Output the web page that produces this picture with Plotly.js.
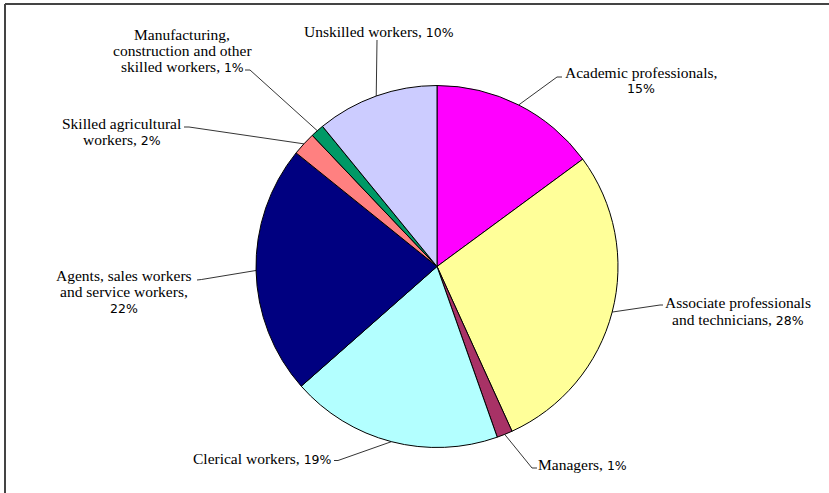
<!DOCTYPE html>
<html>
<head>
<meta charset="utf-8">
<script src="https://cdn.plot.ly/plotly-3.0.1.min.js"></script>
<style>html,body{margin:0;padding:0;background:#fff;}#chart{width:829px;height:493px;}</style>
</head>
<body>
<div id="chart"></div>
<script>
// ---- data ----
const categories = [
  'Academic professionals',
  'Associate professionals and technicians',
  'Managers',
  'Clerical workers',
  'Agents, sales workers and service workers',
  'Skilled agricultural workers',
  'Manufacturing, construction and other skilled workers',
  'Unskilled workers'
];
const values = [14.9, 28.3, 1.4, 18.9, 22.3, 2.1, 1.2, 10.9];
const pctLabels = ['15%', '28%', '1%', '19%', '22%', '2%', '1%', '10%'];

// ---- styles / layout ----
const colors = ['#FF00FF', '#FFFF99', '#A83266', '#B3FFFF', '#000080', '#FF8080', '#009966', '#CCCCFF'];
const W = 829, H = 493;
const cx = 437, cy = 266.5, R = 181;
const serif = 'Liberation Serif';
const lineGap = 16.5;
// label text lines ({p} = percent)
const labelLines = [
  ['Academic professionals,', '{p}'],
  ['Associate professionals', 'and technicians, {p}'],
  ['Managers, {p}'],
  ['Clerical workers, {p}'],
  ['Agents, sales workers', 'and service workers,', '{p}'],
  ['Skilled agricultural', 'workers, {p}'],
  ['Manufacturing,', 'construction and other', 'skilled workers, {p}'],
  ['Unskilled workers, {p}']
];
// label positions (pixels): text centre x, first line y, leader elbow, stub end
const labelPos = [
  {tx: 640.5, ty: 72,  ex: 557, ey: 77,  sx: 562, sy: 77},
  {tx: 738,   ty: 302.5, ex: 660, ey: 305, sx: 663, sy: 305},
  {tx: 582,   ty: 464, ex: 532, ey: 468, sx: 537, sy: 468},
  {tx: 262,   ty: 458, ex: 338, ey: 460.5, sx: 334, sy: 460.5},
  {tx: 124.5, ty: 275, ex: 201.5, ey: 279.5, sx: 197, sy: 280},
  {tx: 121.5, ty: 123.5, ex: 189, ey: 127, sx: 184, sy: 127},
  {tx: 182,   ty: 34,  ex: 250, ey: 70,  sx: 245, sy: 70},
  {tx: 378.5, ty: 31.5, ex: 377, ey: 40, sx: 377, sy: 40}
];

const px = x => x / W;
const py = y => 1 - y / H;

const total = values.reduce((a, b) => a + b, 0);
let cum = 0;
const shapes = [];
const annotations = [];
values.forEach((v, i) => {
  const mid = (cum + v / 2) / total * 2 * Math.PI;
  cum += v;
  const ex = cx + R * Math.sin(mid);
  const ey = cy - R * Math.cos(mid);
  const p = labelPos[i];
  shapes.push({
    type: 'path', xref: 'paper', yref: 'paper',
    path: `M ${px(ex)} ${py(ey)} L ${px(p.ex)} ${py(p.ey)} L ${px(p.sx)} ${py(p.sy)}`,
    line: {color: '#000', width: 0.8}
  });
  const pct = `<span style="font-family:DejaVu Sans;font-size:12.5px">${pctLabels[i]}</span>`;
  labelLines[i].forEach((ln, k) => {
    annotations.push({
      xref: 'paper', yref: 'paper', x: px(p.tx), y: py(p.ty + k * lineGap),
      xanchor: 'center', yanchor: 'middle', align: 'center',
      showarrow: false,
      text: ln.replace('{p}', pct),
      font: {family: serif, size: 15.5, color: '#000'}
    });
  });
});

// frame (left and top edges)
shapes.push({type: 'line', xref: 'paper', yref: 'paper', x0: px(5), y0: py(4), x1: px(5), y1: 0, line: {color: '#444', width: 2}});
shapes.push({type: 'line', xref: 'paper', yref: 'paper', x0: px(5), y0: py(4), x1: 1, y1: py(4), line: {color: '#444', width: 2}});

const trace = {
  type: 'pie',
  labels: categories,
  values: values,
  sort: false,
  direction: 'clockwise',
  rotation: 0,
  textinfo: 'none',
  hoverinfo: 'label+percent',
  marker: {colors: colors, line: {color: '#000', width: 1}},
  domain: {x: [px(cx - R), px(cx + R)], y: [py(cy + R), py(cy - R)]},
  showlegend: false
};

const layout = {
  width: W, height: H,
  margin: {l: 0, r: 0, t: 0, b: 0},
  paper_bgcolor: '#fff',
  font: {family: serif},
  showlegend: false,
  shapes: shapes,
  annotations: annotations
};

Plotly.newPlot('chart', [trace], layout, {displayModeBar: false, staticPlot: true});
</script>
</body>
</html>
